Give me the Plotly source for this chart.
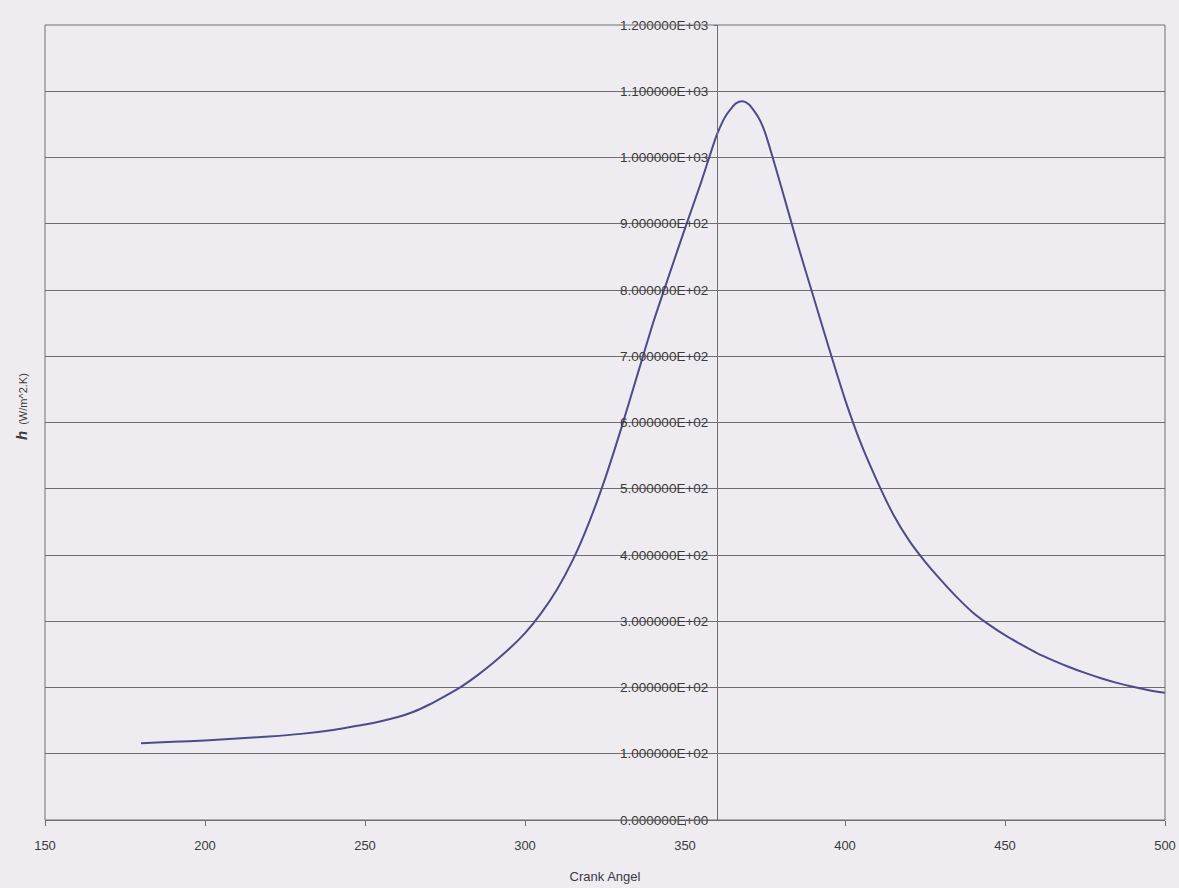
import plotly.graph_objects as go

# Data
crank_angle = [180, 190, 200, 210, 220, 230, 240, 245, 250, 255, 260, 265, 270, 275, 280, 285,
               290, 295, 300, 305, 310, 315, 320, 325, 330, 335, 340, 345, 350, 355, 360,
               363, 366, 368, 370, 373, 375, 380, 385, 390, 395, 400, 405, 410, 415, 420,
               425, 430, 435, 440, 445, 450, 455, 460, 465, 470, 475, 480, 485, 490, 495, 500]
h_values = [116, 118, 120, 123, 126, 130, 136, 140, 144, 149, 155, 163, 174, 187, 201, 218,
            237, 258, 282, 312, 348, 393, 449, 515, 590, 670, 750, 822, 893, 962, 1035,
            1065, 1082, 1085, 1080, 1060, 1038, 957, 872, 792, 712, 635, 568, 512, 462, 422,
            390, 362, 336, 313, 295, 279, 265, 252, 241, 231, 222, 214, 207, 201, 196, 192]

y_tick_values = [0, 100, 200, 300, 400, 500, 600, 700, 800, 900, 1000, 1100, 1200]
y_tick_labels = ["0.000000E+00", "1.000000E+02", "2.000000E+02", "3.000000E+02",
                 "4.000000E+02", "5.000000E+02", "6.000000E+02", "7.000000E+02",
                 "8.000000E+02", "9.000000E+02", "1.000000E+03", "1.100000E+03",
                 "1.200000E+03"]
x_tick_values = [150, 200, 250, 300, 350, 400, 450, 500]

x_title = "Crank Angel"
y_title = '<span style="font-size:15px"><b><i>h</i></b></span>  (W/m^2.K)'

bg = "#eeecf1"
grid = "#6e6e70"
text_col = "#3a3a3c"

fig = go.Figure()
fig.add_trace(go.Scatter(
    x=crank_angle, y=h_values, mode="lines",
    line=dict(color="#4d4c8a", width=2, shape="spline", smoothing=0.6),
    showlegend=False, hoverinfo="x+y"))

fig.update_layout(
    width=1179, height=888,
    margin=dict(l=45, r=14, t=25, b=68),
    paper_bgcolor=bg, plot_bgcolor=bg,
    font=dict(family="Liberation Sans, Arial, sans-serif", size=13, color=text_col),
    xaxis=dict(
        range=[150, 500], tickvals=x_tick_values, showgrid=False, zeroline=False,
        showline=True, linecolor=grid, linewidth=1,
        ticks="outside", ticklen=5, tickcolor=grid, ticklabelstandoff=8,
        ticklabeloverflow="allow",
        title=dict(text=x_title, standoff=20, font=dict(size=13, color=text_col)),
        automargin=False),
    yaxis=dict(
        range=[0, 1200], tickvals=y_tick_values, ticktext=y_tick_labels,
        anchor="free", position=0.6, showline=True, linecolor=grid, linewidth=1,
        showgrid=True, gridcolor=grid, gridwidth=1, zeroline=False,
        ticks="outside", ticklen=3, tickcolor=grid, ticklabelstandoff=3,
        tickfont=dict(size=13.5, color=text_col), automargin=False),
    shapes=[dict(type="rect", xref="paper", yref="paper", x0=0, y0=0, x1=1, y1=1,
                 line=dict(color=grid, width=1), fillcolor="rgba(0,0,0,0)", layer="above")],
    annotations=[dict(text=y_title, xref="paper", yref="paper", x=-0.021, y=0.52,
                      xanchor="center", yanchor="middle", textangle=-90, showarrow=False,
                      font=dict(size=11, color=text_col))],
)

fig.write_html("out.html")
